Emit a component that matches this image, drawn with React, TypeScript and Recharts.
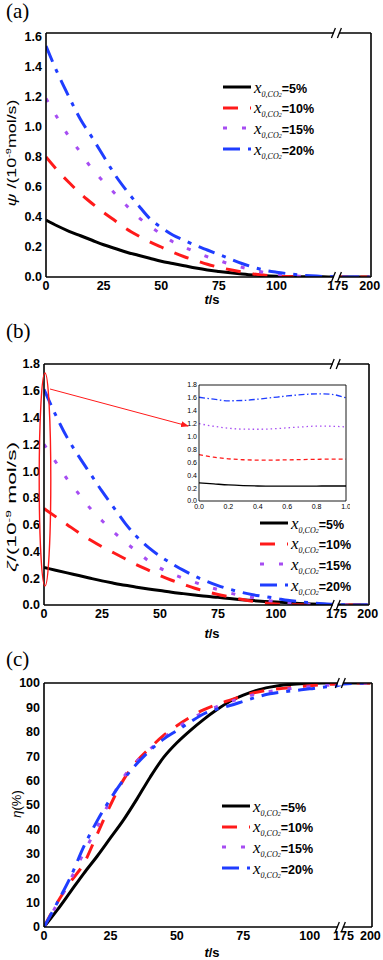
import React from "react";
import { LineChart, Line, XAxis, YAxis, Legend } from "recharts";

// time grid (s) for panels (a) and (b), and for panel (c)
const timeAB = [0, 5, 10, 15, 20, 25, 30, 35, 40, 45, 50, 55, 60, 65, 70, 75, 80, 85, 90, 95, 100, 105, 110, 115, 120, 125, 175, 200];
const timeC = [0, 5, 10, 15, 20, 25, 30, 35, 40, 45, 50, 55, 60, 65, 70, 75, 80, 85, 90, 95, 100, 105, 110, 175, 200];

// (a) psi, 10^-9 mol/s
const psi5 = [0.38, 0.34, 0.305, 0.275, 0.245, 0.215, 0.19, 0.165, 0.145, 0.125, 0.105, 0.09, 0.075, 0.06, 0.047, 0.037, 0.028, 0.02, 0.013, 0.008, 0.005, 0.003, 0.002, 0.001, 0.001, 0, 0, 0];
const psi10 = [0.8, 0.71, 0.63, 0.555, 0.49, 0.43, 0.375, 0.32, 0.275, 0.235, 0.2, 0.165, 0.135, 0.11, 0.085, 0.065, 0.048, 0.033, 0.02, 0.012, 0.006, 0.003, 0.002, 0.001, 0, 0, 0, 0];
const psi15 = [1.19, 1.06, 0.935, 0.83, 0.72, 0.635, 0.555, 0.475, 0.4, 0.34, 0.285, 0.235, 0.2, 0.165, 0.135, 0.11, 0.085, 0.065, 0.045, 0.03, 0.02, 0.01, 0.005, 0.003, 0.001, 0, 0, 0];
const psi20 = [1.54, 1.36, 1.2, 1.05, 0.93, 0.805, 0.68, 0.575, 0.48, 0.39, 0.33, 0.28, 0.245, 0.21, 0.18, 0.15, 0.12, 0.09, 0.065, 0.045, 0.032, 0.022, 0.014, 0.008, 0.004, 0.002, 0, 0];

// (b) zeta, 10^-9 mol/s
const zeta5 = [0.28, 0.26, 0.24, 0.22, 0.2, 0.18, 0.163, 0.147, 0.133, 0.12, 0.108, 0.095, 0.085, 0.075, 0.065, 0.057, 0.048, 0.04, 0.033, 0.027, 0.022, 0.017, 0.012, 0.008, 0.005, 0.003, 0, 0];
const zeta10 = [0.72, 0.66, 0.6, 0.54, 0.485, 0.435, 0.39, 0.345, 0.3, 0.26, 0.22, 0.185, 0.155, 0.125, 0.1, 0.078, 0.06, 0.043, 0.028, 0.016, 0.008, 0.003, 0.001, 0, 0, 0, 0, 0];
const zeta15 = [1.2, 1.07, 0.94, 0.83, 0.72, 0.63, 0.545, 0.47, 0.4, 0.33, 0.275, 0.235, 0.2, 0.17, 0.14, 0.115, 0.09, 0.07, 0.055, 0.04, 0.025, 0.015, 0.008, 0.004, 0.002, 0, 0, 0];
const zeta20 = [1.61, 1.42, 1.25, 1.11, 0.98, 0.85, 0.73, 0.61, 0.51, 0.43, 0.365, 0.31, 0.26, 0.215, 0.177, 0.145, 0.118, 0.095, 0.077, 0.063, 0.05, 0.035, 0.025, 0.017, 0.01, 0.005, 0.002, 0];

// (c) eta, %
const eta5 = [0, 7, 14.5, 22, 29, 36.5, 44, 52.5, 61.5, 69.5, 75.5, 80.5, 85, 89, 92.5, 95, 97, 98.3, 99.2, 99.6, 99.9, 100, 100, 100, 100];
const eta10 = [0, 10, 18.5, 26, 38, 50, 60.5, 68, 73.5, 78.5, 82.5, 86, 89, 91.2, 93, 94.8, 96.2, 97.2, 97.8, 98.4, 98.9, 99.3, 99.6, 99.9, 100];
const eta15 = [0, 9.5, 19.5, 30.5, 41, 52, 61.5, 68, 73, 77.5, 81.5, 85, 88, 90.3, 92.3, 94, 95.5, 96.5, 97.3, 98, 98.5, 99, 99.3, 99.8, 100];
const eta20 = [0, 10, 20.5, 33, 43.5, 52.5, 60.5, 67, 72.5, 77, 80.5, 84, 87.3, 89.3, 90.8, 92.5, 94.2, 95.6, 96.4, 97, 97.6, 98.3, 98.8, 99.6, 100];

// inset of (b): first second
const insetT = [0, 0.1, 0.2, 0.3, 0.4, 0.5, 0.6, 0.7, 0.8, 0.9, 1.0];
const inset5 = [0.28, 0.265, 0.25, 0.24, 0.233, 0.23, 0.23, 0.231, 0.232, 0.233, 0.233];
const inset10 = [0.72, 0.68, 0.655, 0.64, 0.635, 0.635, 0.638, 0.643, 0.647, 0.65, 0.65];
const inset15 = [1.2, 1.16, 1.13, 1.115, 1.113, 1.12, 1.135, 1.15, 1.162, 1.16, 1.15];
const inset20 = [1.61, 1.58, 1.555, 1.56, 1.58, 1.605, 1.63, 1.65, 1.663, 1.655, 1.6];

const shares = ["5%", "10%", "15%", "20%"];
const xTicks = [0, 25, 50, 75, 100, 175, 200];
const xMinorAB = [12.5, 37.5, 62.5, 87.5, 112.5, 187.5];
const xMinorC = [12.5, 37.5, 62.5, 87.5, 187.5];
const psiTicks = [0, 0.2, 0.4, 0.6, 0.8, 1.0, 1.2, 1.4, 1.6];
const psiMinor = [0.1, 0.3, 0.5, 0.7, 0.9, 1.1, 1.3, 1.5];
const zetaTicks = [0, 0.2, 0.4, 0.6, 0.8, 1.0, 1.2, 1.4, 1.6, 1.8];
const zetaMinor = [0.1, 0.3, 0.5, 0.7, 0.9, 1.1, 1.3, 1.5, 1.7];
const etaTicks = [0, 10, 20, 30, 40, 50, 60, 70, 80, 90, 100];
const etaMinor = [5, 15, 25, 35, 45, 55, 65, 75, 85, 95];
const insetXTicks = [0, 0.2, 0.4, 0.6, 0.8, 1.0];
const insetXMinor = [0.1, 0.3, 0.5, 0.7, 0.9];

const SANS = "'Liberation Sans', Arial, sans-serif";
const SERIF = "'Liberation Serif', 'Times New Roman', serif";

const STYLE = [
  { key: "c5", color: "#000000", dash: undefined as string | undefined, inDash: undefined as string | undefined },
  { key: "c10", color: "#ff1a1a", dash: "15 12", inDash: "4 3" },
  { key: "c15", color: "#a64df2", dash: "4 15", inDash: "1.5 3" },
  { key: "c20", color: "#1f3dff", dash: "17 8 4 8", inDash: "6 2.5 1.5 2.5" },
];

// broken time axis: [0, A] then [B, tMax] compressed by r
type Brk = { A: number; B: number; r: number; tMax: number };
const brkA: Brk = { A: 126, B: 174, r: 0.556, tMax: 201 };
const brkB: Brk = { A: 125.5, B: 174, r: 0.54, tMax: 201 };
const brkC: Brk = { A: 111.5, B: 172, r: 0.404, tMax: 201.5 };
const fwd = (b: Brk, t: number) => (t <= b.A ? t : b.A + (t - b.B) * b.r);
const back = (b: Brk, v: number) => (v <= b.A + 1e-6 ? v : b.B + (v - b.A) / b.r);
const dMax = (b: Brk) => fwd(b, b.tMax);

const FRAME = { stroke: "#000", strokeWidth: 1.6 };
const TICK = { fill: "#000", fontSize: 12.5, fontWeight: 700, fontFamily: SANS };

function frameAxes(xDom: number[], xMaj: number[], xMin: number[], yDom: number[], yMaj: number[], yMin: number[], small = false) {
  const major = small ? 3 : 5;
  const minor = small ? 2 : 3;
  const tl = { stroke: "#000", strokeWidth: small ? 0.8 : 1.2 };
  const fr = small ? { stroke: "#000", strokeWidth: 0.9 } : FRAME;
  const out: React.ReactElement[] = [];
  (["bottom", "top"] as const).forEach((o) => {
    out.push(<XAxis key={`x${o}M`} xAxisId={`x${o}M`} orientation={o} mirror type="number" domain={xDom} ticks={xMaj} interval={0} tick={false} tickSize={major} tickLine={tl} axisLine={o === "top" ? fr : false} height={1} allowDataOverflow />);
    out.push(<XAxis key={`x${o}m`} xAxisId={`x${o}m`} orientation={o} mirror type="number" domain={xDom} ticks={xMin} interval={0} tick={false} tickSize={minor} tickLine={tl} axisLine={false} height={1} allowDataOverflow />);
  });
  (["left", "right"] as const).forEach((o) => {
    out.push(<YAxis key={`y${o}M`} yAxisId={`y${o}M`} orientation={o} mirror type="number" domain={yDom} ticks={yMaj} interval={0} tick={false} tickSize={major} tickLine={tl} axisLine={o === "right" ? fr : false} width={1} allowDataOverflow />);
    out.push(<YAxis key={`y${o}m`} yAxisId={`y${o}m`} orientation={o} mirror type="number" domain={yDom} ticks={yMin} interval={0} tick={false} tickSize={minor} tickLine={tl} axisLine={false} width={1} allowDataOverflow />);
  });
  return out;
}

function LegendBox() {
  return (
    <div style={{ width: 130 }}>
      {STYLE.map((s, i) => (
        <div key={s.key} style={{ height: 20.6, display: "flex", alignItems: "center", whiteSpace: "nowrap" }}>
          <svg width={30} height={8} style={{ display: "block" }}>
            <line x1={0} y1={4} x2={28} y2={4} stroke={s.color} strokeWidth={3} strokeDasharray={s.dash} />
          </svg>
          <span style={{ marginLeft: 1, lineHeight: 1, color: "#000" }}>
            <span style={{ fontFamily: SERIF, fontStyle: "italic", fontSize: 17 }}>x</span>
            <span style={{ fontFamily: SERIF, fontStyle: "italic", fontSize: 8, position: "relative", top: 4 }}>
              0,CO<span style={{ fontSize: 6 }}>2</span>
            </span>
            <span style={{ fontFamily: SANS, fontWeight: 700, fontSize: 12.5 }}>={shares[i]}</span>
          </span>
        </div>
      ))}
    </div>
  );
}

type PanelProps = {
  top: number;
  height: number;
  mTop: number;
  mRight: number;
  yW: number;
  time: number[];
  series: number[][];
  brk: Brk;
  yDom: [number, number];
  yMaj: number[];
  yMin: number[];
  yFmt: (v: number) => string;
  xMin: number[];
  legend: { left: number; top: number };
};

function Panel(p: PanelProps) {
  const rows = p.time.map((t, i) => {
    const r: Record<string, number> = { x: fwd(p.brk, t) };
    STYLE.forEach((s, k) => (r[s.key] = p.series[k][i]));
    return r;
  });
  const xDom = [0, dMax(p.brk)];
  const xMaj = xTicks.map((t) => fwd(p.brk, t));
  const xMin = p.xMin.map((t) => fwd(p.brk, t));
  return (
    <div style={{ position: "absolute", left: 0, top: p.top }}>
      <LineChart width={383} height={p.height} data={rows} margin={{ top: p.mTop, right: p.mRight, left: 0, bottom: 0 }}>
        <XAxis xAxisId="main" type="number" dataKey="x" domain={xDom} ticks={xMaj} interval={0}
          tickFormatter={(v: number) => String(Math.round(back(p.brk, v)))}
          tickLine={false} tickSize={0} tickMargin={4} height={33} axisLine={FRAME} tick={TICK} allowDataOverflow />
        <YAxis yAxisId="main" type="number" domain={p.yDom} ticks={p.yMaj} interval={0} tickFormatter={p.yFmt}
          tickLine={false} tickSize={0} tickMargin={4} width={p.yW} axisLine={FRAME} tick={TICK} allowDataOverflow />
        {frameAxes(xDom, xMaj, xMin, p.yDom, p.yMaj, p.yMin)}
        {STYLE.map((s) => (
          <Line key={s.key} xAxisId="main" yAxisId="main" type="monotone" dataKey={s.key} stroke={s.color}
            strokeWidth={3} strokeDasharray={s.dash} dot={false} activeDot={false} isAnimationActive={false} />
        ))}
        <Legend layout="vertical" align="center" verticalAlign="middle"
          wrapperStyle={{ left: p.legend.left, top: p.legend.top, width: 130 }} content={() => <LegendBox />} />
      </LineChart>
    </div>
  );
}

function Inset() {
  const rows = insetT.map((t, i) => ({ x: t, c5: inset5[i], c10: inset10[i], c15: inset15[i], c20: inset20[i] }));
  const tick = { fill: "#000", fontSize: 7, fontFamily: SANS };
  const fr = { stroke: "#000", strokeWidth: 0.9 };
  return (
    <div style={{ position: "absolute", left: 178, top: 380, background: "#fff" }}>
      <LineChart width={172} height={135} data={rows} margin={{ top: 5, right: 4, left: 0, bottom: 0 }}>
        <XAxis xAxisId="main" type="number" dataKey="x" domain={[0, 1]} ticks={insetXTicks} interval={0}
          tickFormatter={(v: number) => v.toFixed(1)} tickLine={false} tickSize={0} tickMargin={3} height={14} axisLine={fr} tick={tick} />
        <YAxis yAxisId="main" type="number" domain={[0, 1.8]} ticks={zetaTicks} interval={0}
          tickFormatter={(v: number) => v.toFixed(1)} tickLine={false} tickSize={0} tickMargin={2} width={21} axisLine={fr} tick={tick} />
        {frameAxes([0, 1], insetXTicks, insetXMinor, [0, 1.8], zetaTicks, zetaMinor, true)}
        {STYLE.map((s) => (
          <Line key={s.key} xAxisId="main" yAxisId="main" type="monotone" dataKey={s.key} stroke={s.color}
            strokeWidth={1.3} strokeDasharray={s.inDash} dot={false} activeDot={false} isAnimationActive={false} />
        ))}
      </LineChart>
    </div>
  );
}

function BreakMark({ x, y }: { x: number; y: number }) {
  return (
    <g>
      <rect x={x - 2.5} y={y - 2.5} width={5} height={5} fill="#fff" />
      <line x1={x - 5} y1={y + 5} x2={x - 1} y2={y - 5} stroke="#000" strokeWidth={1.3} />
      <line x1={x + 1} y1={y + 5} x2={x + 5} y2={y - 5} stroke="#000" strokeWidth={1.3} />
    </g>
  );
}

const breakX = (b: Brk, L: number, R: number) => L + (b.A / dMax(b)) * (R - L);

function Overlay() {
  const bA = breakX(brkA, 46, 371);
  const bB = breakX(brkB, 44, 369);
  const bC = breakX(brkC, 44, 372);
  const ts = (y: number) => (
    <text x={212} y={y} textAnchor="middle" fontFamily={SANS} fontWeight={700} fontSize={13} fill="#000">
      <tspan fontStyle="italic">t</tspan>/s
    </text>
  );
  return (
    <svg width={383} height={960} style={{ position: "absolute", left: 0, top: 0, pointerEvents: "none" }}>
      <defs>
        <marker id="arr" markerWidth={8} markerHeight={6} refX={7} refY={3} orient="auto" markerUnits="userSpaceOnUse">
          <path d="M0,0 L8,3 L0,6 z" fill="#ff1a1a" />
        </marker>
      </defs>
      <text x={6} y={18} fontFamily={SERIF} fontSize={21} fill="#000">(a)</text>
      <text x={6} y={338} fontFamily={SERIF} fontSize={21} fill="#000">(b)</text>
      <text x={6} y={666} fontFamily={SERIF} fontSize={21} fill="#000">(c)</text>

      <text transform="translate(16,153) rotate(-90)" textAnchor="middle" fontFamily={SANS} fontSize={13} fill="#000"
        textLength={107} lengthAdjust="spacingAndGlyphs">
        <tspan fontStyle="italic">ψ</tspan> /(10<tspan fontSize={8} dy={-5}>-9</tspan><tspan dy={5}>mol/s)</tspan>
      </text>
      <text transform="translate(16,507) rotate(-90)" textAnchor="middle" fontFamily={SANS} fontSize={13} fill="#000"
        textLength={130} lengthAdjust="spacingAndGlyphs">
        <tspan fontStyle="italic">ζ</tspan>/(10<tspan fontSize={8} dy={-5}>-9</tspan><tspan dy={5}> mol/s)</tspan>
      </text>
      <text transform="translate(21,804) rotate(-90)" textAnchor="middle" fontFamily={SANS} fontSize={13} fill="#000">
        <tspan fontStyle="italic">η</tspan>(%)
      </text>

      {ts(304)}
      {ts(638)}
      {ts(957)}

      <BreakMark x={bA} y={33} />
      <BreakMark x={bA} y={277} />
      <BreakMark x={bB} y={364} />
      <BreakMark x={bB} y={605} />
      <BreakMark x={bC} y={683} />
      <BreakMark x={bC} y={927} />

      <ellipse cx={45} cy={479.5} rx={5.8} ry={106.5} fill="none" stroke="#ff1a1a" strokeWidth={1.4} />
      <line x1={50} y1={389} x2={188} y2={426} stroke="#ff1a1a" strokeWidth={1} markerEnd="url(#arr)" />
    </svg>
  );
}

export default function App() {
  return (
    <div style={{ position: "absolute", left: 0, top: 0, width: 383, height: 960, background: "#fff", overflow: "hidden" }}>
      <Panel top={0} height={310} mTop={33} mRight={12} yW={46} time={timeAB} series={[psi5, psi10, psi15, psi20]}
        brk={brkA} yDom={[0, 1.627]} yMaj={psiTicks} yMin={psiMinor} yFmt={(v) => v.toFixed(1)} xMin={xMinorAB}
        legend={{ left: 223, top: 77 }} />
      <Panel top={331} height={307} mTop={33} mRight={14} yW={44} time={timeAB} series={[zeta5, zeta10, zeta15, zeta20]}
        brk={brkB} yDom={[0, 1.8]} yMaj={zetaTicks} yMin={zetaMinor} yFmt={(v) => v.toFixed(1)} xMin={xMinorAB}
        legend={{ left: 260, top: 182 }} />
      <Inset />
      <Panel top={650} height={310} mTop={33} mRight={11} yW={44} time={timeC} series={[eta5, eta10, eta15, eta20]}
        brk={brkC} yDom={[0, 100]} yMaj={etaTicks} yMin={etaMinor} yFmt={(v) => String(v)} xMin={xMinorC}
        legend={{ left: 222, top: 146 }} />
      <Overlay />
    </div>
  );
}
